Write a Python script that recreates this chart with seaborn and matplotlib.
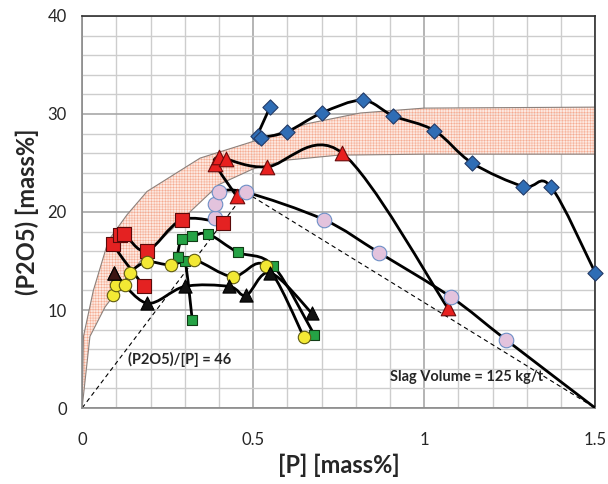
import numpy as np
import matplotlib
matplotlib.use('Agg')
import matplotlib.pyplot as plt
import seaborn as sns
from matplotlib.path import Path
from matplotlib.patches import PathPatch

# ---- data ----
# band (upper / lower edge)
band_up_x = [0, 0.004, 0.033, 0.077, 0.131, 0.19, 0.345, 0.5, 0.657, 0.813, 1.0, 1.5]
band_up_y = [0, 7.3, 12.0, 17.1, 19.7, 22.1, 25.5, 27.2, 29.0, 30.1, 30.6, 30.7]
band_lo_x = [0, 0.023, 0.067, 0.14, 0.19, 0.30, 0.40, 0.50, 0.60, 0.75, 1.0, 1.5]
band_lo_y = [0, 7.3, 10.3, 13.7, 15.8, 19.5, 22.8, 24.4, 25.3, 25.8, 25.9, 25.9]

# dashed guide lines
ratio_x = [0, 0.478]
ratio_y = [0, 22.0]
slag_x = [0.478, 1.5]
slag_y = [22.0, 0]

blue_x = [0.55, 0.513, 0.522, 0.60, 0.70, 0.82, 0.91, 1.03, 1.14, 1.29, 1.37, 1.5]
blue_y = [30.75, 27.8, 27.6, 28.2, 30.1, 31.4, 29.8, 28.3, 25.0, 22.6, 22.6, 13.8]

redtri_x = [0.452, 0.389, 0.40, 0.421, 0.54, 0.759, 1.069]
redtri_y = [21.6, 24.9, 25.6, 25.4, 24.6, 26.05, 10.2]

pink_x = [0.389, 0.389, 0.401, 0.48, 0.708, 0.868, 1.079, 1.24, 1.5]
pink_y = [19.4, 20.8, 22.0, 22.0, 19.2, 15.85, 11.3, 6.94, 0]

redsq_x = [0.181, 0.0916, 0.111, 0.123, 0.189, 0.291, 0.411]
redsq_y = [12.4, 16.7, 17.65, 17.8, 16.0, 19.2, 18.9]

green_x = [0.322, 0.301, 0.28, 0.291, 0.321, 0.369, 0.455, 0.559, 0.679]
green_y = [9.0, 15.0, 15.4, 17.2, 17.5, 17.75, 15.9, 14.5, 7.45]

yellow_x = [0.0916, 0.0994, 0.124, 0.14, 0.189, 0.259, 0.328, 0.44, 0.538, 0.649]
yellow_y = [11.5, 12.55, 12.6, 13.8, 14.9, 14.6, 15.1, 13.4, 14.5, 7.2]

black_x = [0.0945, 0.189, 0.30, 0.43, 0.48, 0.55, 0.672]
black_y = [13.8, 10.7, 12.4, 12.4, 11.5, 13.8, 9.66]


def smooth_path(xs, ys):
    # excel-like smoothed line: catmull-rom turned into bezier segments
    p = np.column_stack([xs, ys]).astype(float)
    n = len(p)
    verts = [p[0]]
    codes = [Path.MOVETO]
    for i in range(n - 1):
        p0 = p[i - 1] if i > 0 else p[i]
        p1 = p[i]
        p2 = p[i + 1]
        p3 = p[i + 2] if i + 2 < n else p[i + 1]
        c1 = p1 + (p2 - p0) / 6.0
        c2 = p2 - (p3 - p1) / 6.0
        verts += [c1, c2, p2]
        codes += [Path.CURVE4] * 3
    return Path(verts, codes)


sns.set_style('white')
plt.rcParams['font.family'] = ['Lato', 'DejaVu Sans']
plt.rcParams['hatch.linewidth'] = 0.35

fig = plt.figure(figsize=(6.08, 4.84), dpi=100)
ax = fig.add_axes([0.135, 0.157, 0.844, 0.81])

ax.set_xlim(0, 1.5)
ax.set_ylim(0, 40)
ax.set_xticks([0, 0.5, 1, 1.5])
ax.set_xticklabels(['0', '0.5', '1', '1.5'])
ax.set_yticks([0, 10, 20, 30, 40])
ax.set_xticks(np.arange(0, 1.51, 0.1), minor=True)
ax.set_yticks(np.arange(0, 40.1, 2), minor=True)
ax.grid(which='minor', color='#cdcdcd', lw=1.0)
ax.grid(which='major', color='#a8a8a8', lw=1.2)
ax.set_axisbelow(True)
ax.tick_params(which='minor', length=0)
ax.tick_params(axis='y', which='major', length=7, width=1, color='#888888', labelsize=12, pad=4)
ax.tick_params(axis='x', which='major', length=5, width=1, color='#888888', labelsize=12, pad=12)
for s in ['left', 'bottom']:
    ax.spines[s].set_color('#8a8a8a')
    ax.spines[s].set_linewidth(1.2)
for s in ['top', 'right']:
    ax.spines[s].set_color('#303030')
    ax.spines[s].set_linewidth(1.2)

# band
bx = np.array(sorted(set(band_up_x) | set(band_lo_x)))
up = np.interp(bx, band_up_x, band_up_y)
lo = np.interp(bx, band_lo_x, band_lo_y)
ax.fill_between(bx, lo, up, facecolor='#fde6dd', edgecolor='#f4a387',
                hatch='++++++', linewidth=0, zorder=1, alpha=0.9)
ax.plot(band_up_x, band_up_y, color='#8c817c', lw=0.8, zorder=1.5)
ax.plot(band_lo_x, band_lo_y, color='#8c817c', lw=0.8, zorder=1.5)

# dashed guides
ax.plot(ratio_x, ratio_y, color='black', lw=0.8, ls=(0, (4, 3)), zorder=2)
ax.plot(slag_x, slag_y, color='black', lw=0.8, ls=(0, (4, 3)), zorder=2)

series = [
    (blue_x, blue_y, 'D', '#2f6db5', '#233a66', 60),
    (redtri_x, redtri_y, '^', '#e8201f', '#6a0a0a', 110),
    (pink_x, pink_y, 'o', '#e3c3dd', '#6d8fc6', 110),
    (redsq_x, redsq_y, 's', '#e42222', '#5a0a0a', 100),
    (green_x, green_y, 's', '#25a345', '#113d16', 45),
    (yellow_x, yellow_y, 'o', '#f3e934', '#5e5a10', 80),
    (black_x, black_y, '^', '#111111', '#000000', 90),
]

for xs, ys, mk, fc, ec, sz in series:
    ax.add_patch(PathPatch(smooth_path(xs, ys), facecolor='none', edgecolor='black',
                           lw=2.0, zorder=3, capstyle='round', joinstyle='round'))

for xs, ys, mk, fc, ec, sz in series:
    mx, my = xs, ys
    if mk == 'o' and fc == '#e3c3dd':
        mx, my = xs[:-1], ys[:-1]
    sns.scatterplot(x=mx, y=my, marker=mk, color=fc, edgecolor=ec, linewidth=0.8,
                    s=sz, ax=ax, zorder=4, clip_on=False, legend=False)

# first black triangle is dark brown
ax.scatter([black_x[0]], [black_y[0]], marker='^', s=90, color='#3b1512',
           edgecolor='black', linewidth=0.8, zorder=5)

ax.text(0.135, 5.0, '(P2O5)/[P] = 46', fontsize=10.5, fontweight='bold',
        va='center', ha='left', zorder=6)
ax.text(0.90, 3.2, 'Slag Volume = 125 kg/t', fontsize=10.5, fontweight='bold',
        va='center', ha='left', zorder=6)

ax.set_xlabel('[P] [mass%]', fontsize=17, fontweight='bold', labelpad=4)
ax.set_ylabel('(P2O5) [mass%]', fontsize=17, fontweight='bold', labelpad=6)

fig.savefig('out.png', dpi=100)
